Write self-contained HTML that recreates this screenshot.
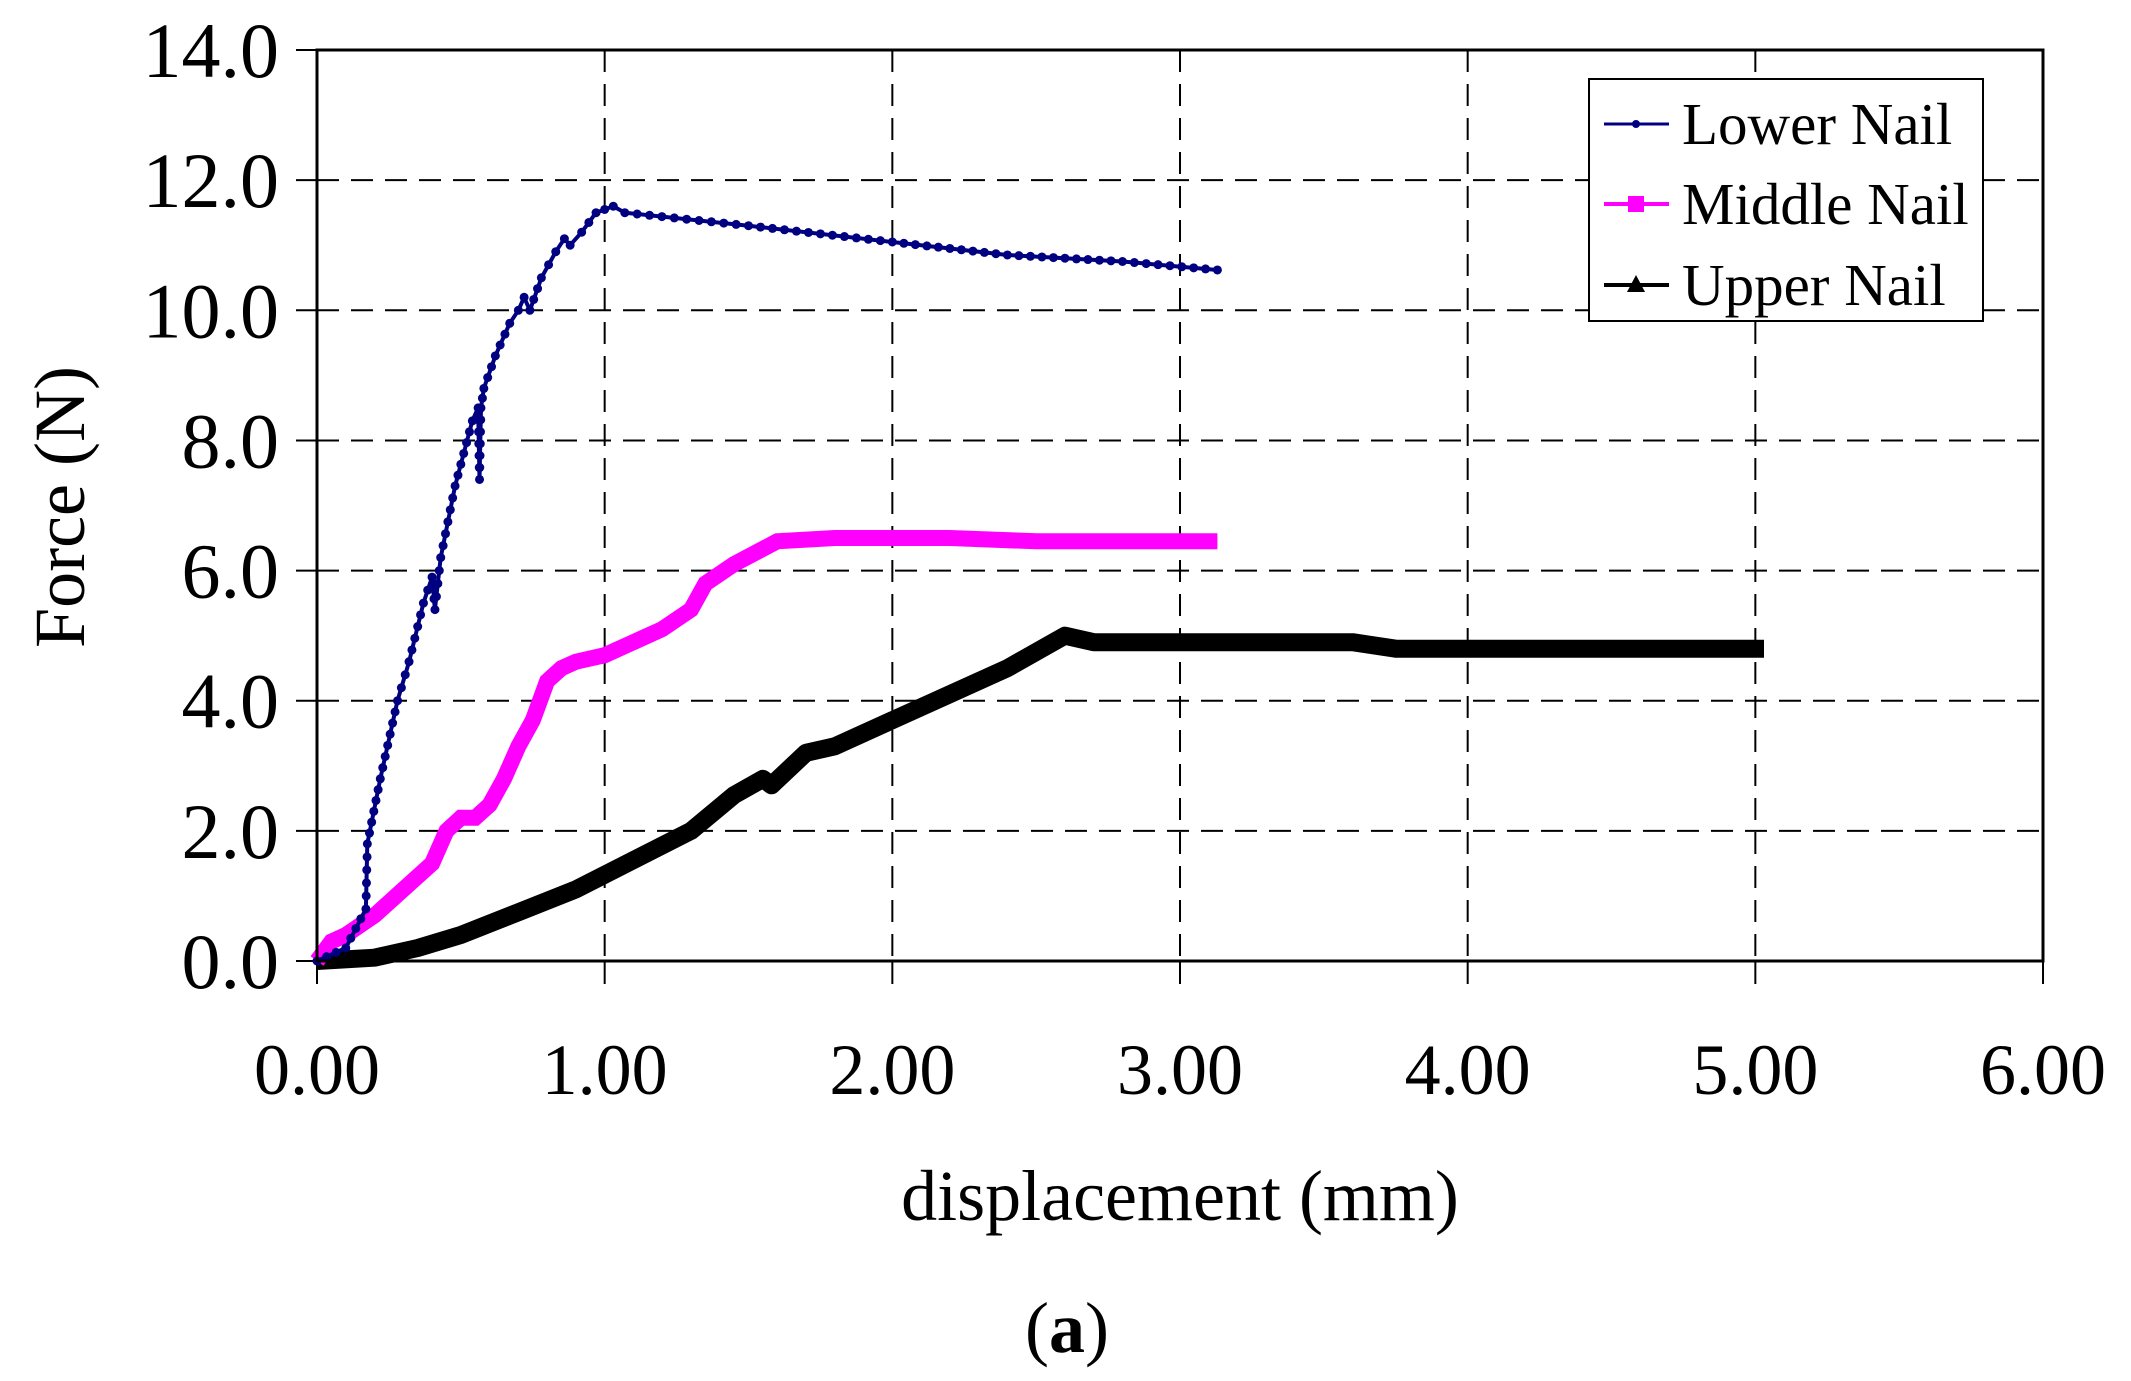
<!DOCTYPE html>
<html><head><meta charset="utf-8"><style>
html,body{margin:0;padding:0;background:#fff;}
svg{display:block;font-family:"Liberation Serif",serif;}
</style></head><body>
<svg id="s" width="2131" height="1381" viewBox="0 0 2131 1381" xmlns="http://www.w3.org/2000/svg">
<rect width="2131" height="1381" fill="#fff"/>
<g id="grid" stroke="#000" stroke-width="2" stroke-dasharray="22,12"></g>
<g id="ticks" stroke="#000" stroke-width="2"></g>
<g id="series"></g>
<rect x="317" y="50" width="1726" height="911" fill="none" stroke="#000" stroke-width="3"/>
<g id="labels" font-size="72" fill="#000"></g>
<g id="ylabels" font-size="78" fill="#000"></g>
<text x="1180" y="1220" font-size="72" text-anchor="middle">displacement (mm)</text>
<text transform="translate(84,507) rotate(-90)" font-size="72" text-anchor="middle">Force (N)</text>
<text x="1067" y="1352" font-size="72" text-anchor="middle">(<tspan font-weight="bold">a</tspan>)</text>
<rect x="1589" y="79" width="394" height="242" fill="#fff" stroke="#000" stroke-width="2"/>
<line x1="1604" y1="124" x2="1669" y2="124" stroke="#000080" stroke-width="3"/>
<circle cx="1636" cy="124" r="4" fill="#000080"/>
<line x1="1604" y1="204" x2="1669" y2="204" stroke="#ff00ff" stroke-width="4"/>
<rect x="1628" y="196" width="16" height="16" fill="#ff00ff"/>
<line x1="1604" y1="285" x2="1669" y2="285" stroke="#000" stroke-width="4"/>
<polygon points="1636,275 1645,292 1627,292" fill="#000"/>
<text x="1682" y="144" font-size="59">Lower Nail</text>
<text x="1682" y="224" font-size="59">Middle Nail</text>
<text x="1682" y="305" font-size="59">Upper Nail</text>
</svg>
<script>
var NS="http://www.w3.org/2000/svg";
function X(d){return 317+287.67*d;}function Y(f){return 961-65.07*f;}
function el(t,a,p){var e=document.createElementNS(NS,t);for(var k in a)e.setAttribute(k,a[k]);document.getElementById(p).appendChild(e);return e;}
for(var i=1;i<7;i++){el('line',{x1:317,x2:2043,y1:Y(2*i),y2:Y(2*i)},'grid');}
for(var i=1;i<6;i++){el('line',{x1:X(i),x2:X(i),y1:50,y2:961},'grid');}
for(var i=0;i<=7;i++){el('line',{x1:296,x2:317,y1:Y(2*i),y2:Y(2*i)},'ticks');
 var t=el('text',{x:279,y:Y(2*i)+27,'text-anchor':'end'},'ylabels');t.textContent=(2*i).toFixed(1);}
for(var i=0;i<=6;i++){el('line',{x1:X(i),x2:X(i),y1:961,y2:984},'ticks');
 var t=el('text',{x:X(i),y:1094,'text-anchor':'middle'},'labels');t.textContent=i.toFixed(2);}
function pts(a){var s=[];for(var i=0;i<a.length;i+=2)s.push(X(a[i]).toFixed(1)+','+Y(a[i+1]).toFixed(1));return s.join(' ');}
var up=[0,0,0.2,0.05,0.35,0.2,0.5,0.4,0.7,0.75,0.9,1.1,1.1,1.55,1.3,2.0,1.45,2.55,1.55,2.8,1.58,2.7,1.7,3.2,1.8,3.3,2.0,3.7,2.2,4.1,2.4,4.5,2.6,5.0,2.7,4.9,3.0,4.9,3.6,4.9,3.75,4.8,5.03,4.8];
var mid=[0,0,0.05,0.3,0.1,0.4,0.2,0.7,0.3,1.1,0.4,1.5,0.45,2.0,0.5,2.2,0.55,2.2,0.6,2.4,0.65,2.8,0.7,3.3,0.75,3.7,0.8,4.3,0.85,4.5,0.9,4.6,1.0,4.7,1.1,4.9,1.2,5.1,1.3,5.4,1.35,5.8,1.45,6.1,1.6,6.45,1.8,6.5,2.2,6.5,2.5,6.45,2.8,6.45,3.13,6.45];
var low=[0,0,0.1,0.2,0.17,0.8,0.175,1.8,0.22,2.8,0.28,4.0,0.32,4.6,0.37,5.5,0.40,5.9,0.41,5.4,0.43,6.2,0.48,7.3,0.54,8.3,0.56,8.5,0.565,7.4,0.57,8.5,0.58,8.8,0.62,9.3,0.67,9.8,0.70,10.0,0.72,10.2,0.74,10.0,0.78,10.5,0.83,10.9,0.86,11.1,0.88,11.0,0.92,11.2,0.97,11.5,1.03,11.6,1.07,11.5,1.5,11.3,2.0,11.05,2.4,10.85,2.8,10.75,3.13,10.62];
el('polyline',{points:pts(up),fill:'none',stroke:'#000','stroke-width':18,'stroke-linejoin':'round'},'series');
el('polyline',{points:pts(mid),fill:'none',stroke:'#ff00ff','stroke-width':16,'stroke-linejoin':'miter'},'series');
el('polyline',{points:pts(low),fill:'none',stroke:'#000080','stroke-width':4,'stroke-linejoin':'round'},'series');
for(var i=0;i<low.length-2;i+=2){var x0=X(low[i]),y0=Y(low[i+1]),x1=X(low[i+2]),y1=Y(low[i+3]);
 var n=Math.max(1,Math.round(Math.hypot(x1-x0,y1-y0)/12));
 for(var k=0;k<n;k++){el('circle',{cx:x0+(x1-x0)*k/n,cy:y0+(y1-y0)*k/n,r:4.5,fill:'#000080'},'series');}}
el('circle',{cx:X(3.13),cy:Y(10.62),r:4.5,fill:'#000080'},'series');
</script>
</body></html>
